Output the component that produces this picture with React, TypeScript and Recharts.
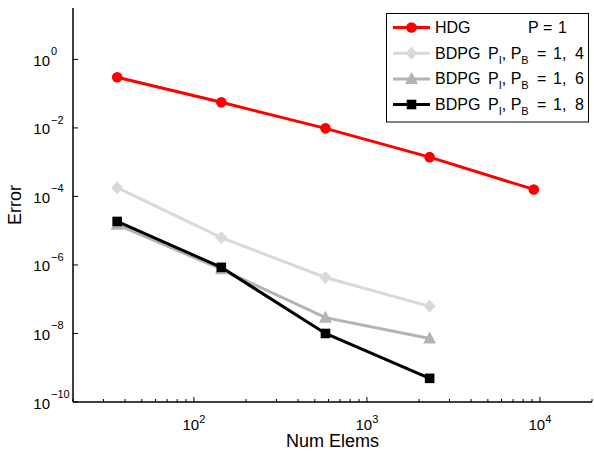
import React from 'react';
import { LineChart, Line, XAxis, YAxis, Legend, Label } from 'recharts';

// ---- data ----
const numElems = [36, 144, 576, 2304, 9216];
const hdgError = [0.30, 0.056, 0.0097, 0.0014, 0.00016];
const bdpg14Error = [1.8e-4, 6.3e-6, 4.3e-7, 6.2e-8];
const bdpg16Error = [1.5e-5, 7.5e-7, 2.9e-8, 7.1e-9];
const bdpg18Error = [1.86e-5, 8.5e-7, 1.0e-8, 4.9e-10];

const seriesNames = ['HDG', 'BDPG', 'BDPG', 'BDPG'];
const seriesParams = [['1'], ['1', '4'], ['1', '6'], ['1', '8']];

const xMajorTicks = [100, 1000, 10000];
const xMajorLabels = ['2', '3', '4'];
const xMinorTicks = [20, 30, 40, 50, 60, 70, 80, 90, 200, 300, 400, 500, 600, 700, 800, 900, 2000, 3000, 4000, 5000, 6000, 7000, 8000, 9000, 20000];
const yMajorTicks = [1, 1e-2, 1e-4, 1e-6, 1e-8, 1e-10];
const yMajorLabels = ['0', '\u22122', '\u22124', '\u22126', '\u22128', '\u221210'];

const xDomain = [20, 20000];
const yDomain = [1e-10, Math.pow(10, 1.5)];

const FONT = '"Liberation Sans", Arial, Helvetica, sans-serif';

const toPoints = (ys: number[]) => ys.map((y, i) => ({ x: numElems[i], y }));
const hdgData = toPoints(hdgError);
const b14Data = toPoints(bdpg14Error);
const b16Data = toPoints(bdpg16Error);
const b18Data = toPoints(bdpg18Error);

const xAllTicks = [...xMajorTicks, ...xMinorTicks].sort((a, b) => a - b);

// ---- markers ----
const Marker = ({ type, cx, cy, color }: { type: string; cx: number; cy: number; color: string }) => {
  if (type === 'circle') return <circle cx={cx} cy={cy} r={5.3} fill={color} />;
  if (type === 'diamond')
    return <polygon points={`${cx},${cy - 6.5} ${cx + 6},${cy} ${cx},${cy + 6.5} ${cx - 6},${cy}`} fill={color} />;
  if (type === 'triangle')
    return <polygon points={`${cx},${cy - 7} ${cx + 6.5},${cy + 5} ${cx - 6.5},${cy + 5}`} fill={color} />;
  return <rect x={cx - 4.8} y={cy - 4.8} width={9.6} height={9.6} fill={color} />;
};

const makeDot = (type: string, color: string) => (p: any) => (
  <Marker key={`m-${type}-${p.index}`} type={type} cx={p.cx} cy={p.cy} color={color} />
);

// ---- ticks (inward, MATLAB style) ----
const XBottomTick = (props: any) => {
  const { x, y, payload } = props;
  const v = payload.value;
  const mi = xMajorTicks.indexOf(v);
  const len = mi >= 0 ? 5 : 3;
  return (
    <g>
      <path d={`M${x},${y}L${x},${y - len}`} stroke="#000" strokeWidth={1} fill="none" />
      {mi >= 0 && (
        <text x={x} y={y + 28} textAnchor="middle" fontSize={15} fontFamily={FONT} fill="#000">
          10<tspan dy={-7} fontSize={11}>{xMajorLabels[mi]}</tspan>
        </text>
      )}
    </g>
  );
};

const XTopTick = (props: any) => {
  const { x, y, payload } = props;
  const len = xMajorTicks.includes(payload.value) ? 5 : 3;
  return <path d={`M${x},${y}L${x},${y + len}`} stroke="#000" strokeWidth={1} fill="none" />;
};

const YLeftTick = (props: any) => {
  const { x, y, payload } = props;
  const mi = yMajorTicks.indexOf(payload.value);
  return (
    <g>
      <path d={`M${x},${y}L${x + 5},${y}`} stroke="#000" strokeWidth={1} fill="none" />
      <text x={x - 23} y={y + 6.5} textAnchor="end" fontSize={15} fontFamily={FONT} fill="#000">10</text>
      <text x={x - 22} y={y - 4} textAnchor="start" fontSize={11} fontFamily={FONT} fill="#000">{yMajorLabels[mi]}</text>
    </g>
  );
};

const YRightTick = (props: any) => {
  const { x, y } = props;
  return <path d={`M${x},${y}L${x - 5},${y}`} stroke="#000" strokeWidth={1} fill="none" />;
};

// ---- frame edges and axis titles, drawn from each axis's own viewBox ----
const EdgeBottom = (p: any) => {
  const vb = p.viewBox || {};
  return (
    <g>
      <path d={`M${vb.x},${vb.y}L${vb.x + vb.width},${vb.y}`} stroke="#000" strokeWidth={1} fill="none" />
      <text x={vb.x + vb.width / 2} y={vb.y + 45} textAnchor="middle" fontSize={18} fontFamily={FONT} fill="#000">Num Elems</text>
    </g>
  );
};
const EdgeTop = (p: any) => {
  const vb = p.viewBox || {};
  const y = vb.y + (vb.height || 0);
  return <path d={`M${vb.x},${y}L${vb.x + vb.width},${y}`} stroke="#000" strokeWidth={1} fill="none" />;
};
const EdgeLeft = (p: any) => {
  const vb = p.viewBox || {};
  const x = vb.x + vb.width;
  const cy = vb.y + vb.height / 2;
  return (
    <g>
      <path d={`M${x},${vb.y}L${x},${vb.y + vb.height}`} stroke="#000" strokeWidth={1} fill="none" />
      <text x={21} y={cy} transform={`rotate(-90 21 ${cy})`} textAnchor="middle" fontSize={18} fontFamily={FONT} fill="#000">Error</text>
    </g>
  );
};
const EdgeRight = (p: any) => {
  const vb = p.viewBox || {};
  return <path d={`M${vb.x},${vb.y}L${vb.x},${vb.y + vb.height}`} stroke="#000" strokeWidth={1} fill="none" />;
};

// ---- legend ----
const legendStyles = [
  { color: '#ff0000', marker: 'circle' },
  { color: '#d9d9d9', marker: 'diamond' },
  { color: '#b3b3b3', marker: 'triangle' },
  { color: '#000000', marker: 'square' },
];

const LegendBox = () => {
  const rowBase = [20, 45.7, 71.4, 97];
  return (
    <svg width={204} height={111} style={{ display: 'block' }}>
      <rect x={0.5} y={0.5} width={202} height={108.5} fill="#fff" stroke="#000" strokeWidth={1} />
      {legendStyles.map((s, i) => {
        const b = rowBase[i];
        const cy = b - 5.5;
        const params = seriesParams[i];
        return (
          <g key={i}>
            <line x1={7} x2={44} y1={cy} y2={cy} stroke={s.color} strokeWidth={3} />
            <Marker type={s.marker} cx={25.5} cy={cy} color={s.color} />
            <text x={49} y={b} fontSize={16} fontFamily={FONT} fill="#000">{seriesNames[i]}</text>
            {i === 0 ? (
              <text x={142} y={b} fontSize={16} fontFamily={FONT} fill="#000">
                P<tspan x={157}>=</tspan>
                <tspan x={172}>{params[0]}</tspan>
              </text>
            ) : (
              <text x={102} y={b} fontSize={16} fontFamily={FONT} fill="#000">
                P<tspan dy={5} fontSize={11}>I</tspan>
                <tspan dy={-5}>, P</tspan>
                <tspan dy={5} fontSize={11}>B</tspan>
                <tspan dy={-5} x={151}>=</tspan>
                <tspan x={167}>{params[0]},</tspan>
                <tspan x={189}>{params[1]}</tspan>
              </text>
            )}
          </g>
        );
      })}
    </svg>
  );
};

const axisCommon = {
  type: 'number' as const,
  scale: 'log' as const,
  allowDataOverflow: true,
  interval: 0 as const,
  tickSize: 0,
  tickMargin: 0,
  tickLine: false,
  stroke: '#000',
  axisLine: { stroke: '#000', strokeWidth: 1 },
};

export default function App() {
  return (
    <div style={{ position: 'absolute', left: 0, top: 0, background: '#fff' }}>
      <LineChart width={594} height={452} margin={{ top: 8, right: 2, left: 0, bottom: 0 }}>
        <XAxis {...axisCommon} xAxisId="b" dataKey="x" domain={xDomain} ticks={xAllTicks} tick={<XBottomTick />} height={50} orientation="bottom">
          <Label content={<EdgeBottom />} />
        </XAxis>
        <XAxis {...axisCommon} xAxisId="t" dataKey="x" domain={xDomain} ticks={xAllTicks} tick={<XTopTick />} height={0} orientation="top">
          <Label content={<EdgeTop />} />
        </XAxis>
        <YAxis {...axisCommon} yAxisId="l" dataKey="y" domain={yDomain} ticks={yMajorTicks} tick={<YLeftTick />} width={73} orientation="left">
          <Label content={<EdgeLeft />} />
        </YAxis>
        <YAxis {...axisCommon} yAxisId="r" dataKey="y" domain={yDomain} ticks={yMajorTicks} tick={<YRightTick />} width={0} orientation="right">
          <Label content={<EdgeRight />} />
        </YAxis>
        <Line xAxisId="b" yAxisId="l" data={hdgData} dataKey="y" stroke="#ff0000" strokeWidth={3} dot={makeDot('circle', '#ff0000')} activeDot={false} isAnimationActive={false} />
        <Line xAxisId="b" yAxisId="l" data={b14Data} dataKey="y" stroke="#d9d9d9" strokeWidth={3} dot={makeDot('diamond', '#d9d9d9')} activeDot={false} isAnimationActive={false} />
        <Line xAxisId="b" yAxisId="l" data={b16Data} dataKey="y" stroke="#b3b3b3" strokeWidth={3} dot={makeDot('triangle', '#b3b3b3')} activeDot={false} isAnimationActive={false} />
        <Line xAxisId="b" yAxisId="l" data={b18Data} dataKey="y" stroke="#000000" strokeWidth={3} dot={makeDot('square', '#000000')} activeDot={false} isAnimationActive={false} />
        <Legend
          layout="horizontal"
          verticalAlign="middle"
          align="center"
          content={() => <LegendBox />}
          wrapperStyle={{ left: 386, top: 13, width: 204, height: 111 }}
        />
      </LineChart>
    </div>
  );
}
